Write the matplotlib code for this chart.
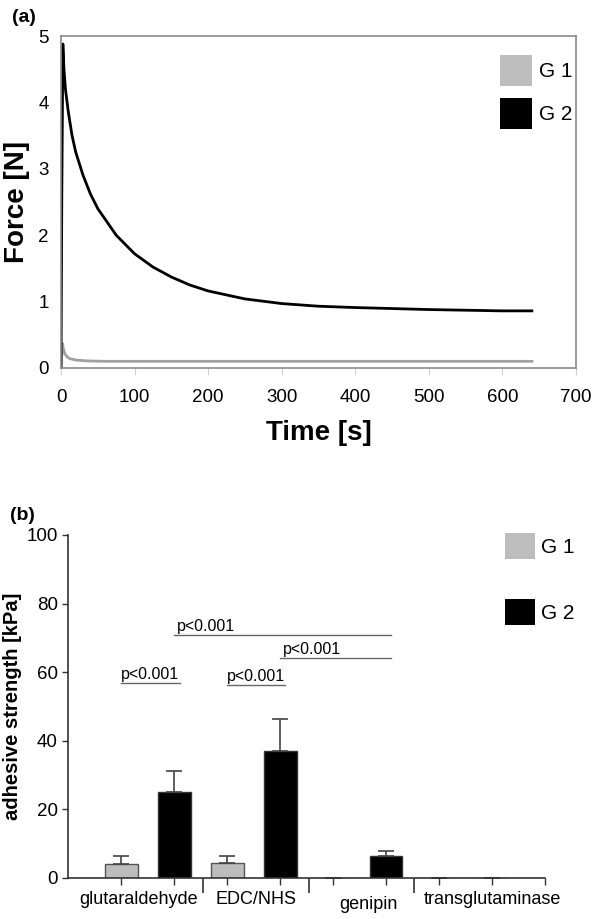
import matplotlib
matplotlib.use('Agg')
import matplotlib.pyplot as plt
from matplotlib.patches import Patch

plt.rcParams['font.family'] = ['Liberation Sans', 'DejaVu Sans']

# (a) force relaxation curves
time_g2 = [0, 1, 2.5, 4, 6, 10, 15, 20, 30, 40, 50, 75, 100, 125, 150, 175, 200,
           250, 300, 350, 400, 450, 500, 550, 600, 640]
force_g2 = [0, 2.5, 4.88, 4.5, 4.2, 3.85, 3.5, 3.25, 2.9, 2.62, 2.4, 2.0, 1.72,
            1.52, 1.37, 1.25, 1.16, 1.04, 0.97, 0.93, 0.91, 0.895, 0.88, 0.87, 0.86, 0.86]
time_g1 = [0, 1, 2, 3, 5, 8, 12, 20, 30, 40, 60, 100, 200, 300, 400, 500, 600, 640]
force_g1 = [0, 0.2, 0.37, 0.3, 0.22, 0.17, 0.14, 0.12, 0.11, 0.105, 0.1, 0.1, 0.1,
            0.1, 0.1, 0.1, 0.1, 0.1]

# (b) adhesive strength
categories = ['glutaraldehyde', 'EDC/NHS', 'genipin', 'transglutaminase']
strength_g1 = [3.9, 4.3, 0, 0]
err_g1 = [2.5, 2.1, 0, 0]
strength_g2 = [24.9, 37.0, 6.4, 0]
err_g2 = [6.2, 9.2, 1.5, 0]
# significance lines: (from bar, to bar, height, text alignment)
sig_pairs = [(1, 2, 56.8, 'center'), (3, 4, 56.1, 'center'),
             (2, 6, 70.7, 'left'), (4, 6, 64.0, 'left')]
sig_label = 'p<0.001'

GRAY = '#bdbdbd'
FRAME = '#8a8a8a'

fig = plt.figure(figsize=(6.0, 9.19), dpi=100)

# ---------------- panel (a)
ax1 = fig.add_axes([0.1017, 0.5996, 0.8583, 0.3612])
ax1.plot(time_g1, force_g1, color='#a0a0a0', lw=2.0)
ax1.plot(time_g2, force_g2, color='black', lw=2.0)
ax1.set_xlim(0, 700)
ax1.set_ylim(0, 5)
ax1.set_xticks(range(0, 701, 100))
ax1.set_yticks(range(0, 6))
for sp in ax1.spines.values():
    sp.set_color(FRAME)
    sp.set_linewidth(1.2)
ax1.tick_params(axis='x', direction='out', length=5, color='#d0d0d0',
                labelsize=13.5, pad=10)
ax1.tick_params(axis='y', length=0, labelsize=13.5, pad=9)
ax1.set_xlabel('Time [s]', fontsize=20, fontweight='bold', labelpad=10)
ax1.set_ylabel('Force [N]', fontsize=20, fontweight='bold', labelpad=6)
ax1.legend(handles=[Patch(facecolor=GRAY, edgecolor='none', label='G 1'),
                    Patch(facecolor='black', edgecolor='none', label='G 2')],
           loc='upper left', bbox_to_anchor=(0.8333, 0.9402),
           bbox_transform=fig.transFigure, frameon=False, fontsize=15,
           handlelength=1.55, handleheight=1.9, labelspacing=0.6,
           handletextpad=0.3, borderpad=0, borderaxespad=0)
fig.text(0.02, 0.981, '(a)', fontsize=14, fontweight='bold', va='center')

# ---------------- panel (b)
ax2 = fig.add_axes([0.1138, 0.0449, 0.7945, 0.373])
pos_g1 = [1, 3, 5, 7]
pos_g2 = [2, 4, 6, 8]
width = 0.62
ax2.bar(pos_g1, strength_g1, width, color=GRAY, edgecolor='#555555', lw=1.0,
        yerr=[[0] * 4, err_g1], error_kw=dict(ecolor='#444444', elinewidth=1.2,
                                                capsize=6, capthick=1.2))
ax2.bar(pos_g2, strength_g2, width, color='black', edgecolor='#333333', lw=1.0,
        yerr=[[0] * 4, err_g2], error_kw=dict(ecolor='#444444', elinewidth=1.2,
                                                capsize=6, capthick=1.2))
ax2.set_xlim(0, 9)
ax2.set_ylim(0, 100)
ax2.set_yticks(range(0, 101, 20))
for side in ['top', 'right']:
    ax2.spines[side].set_visible(False)
for side in ['left', 'bottom']:
    ax2.spines[side].set_color('#333333')
    ax2.spines[side].set_linewidth(1.2)
ax2.set_xticks(pos_g1 + pos_g2 + [9])
ax2.set_xticklabels([])
ax2.tick_params(axis='x', length=5, width=1.0, color='#333333')
ax2.set_xticks([2.54, 4.54, 6.52], minor=True)
ax2.tick_params(axis='x', which='minor', length=11, width=1.2, color='#333333')
ax2.tick_params(axis='y', length=4, width=1.0, color='#333333', labelsize=13.5)
label_pos = [1.32, 3.55, 5.66, 8.0]
label_dy = [0, 0, 3, 0]
for x, name, dy in zip(label_pos, categories, label_dy):
    ax2.annotate(name, xy=(x, 0), xycoords=('data', 'axes fraction'),
                 xytext=(0, -16 - dy), textcoords='offset points',
                 ha='center', va='center', fontsize=13)
ax2.set_ylabel('adhesive strength [kPa]', fontsize=14.5, fontweight='bold',
               labelpad=3)
for a, b, h, align in sig_pairs:
    ax2.plot([a, b + 0.1], [h, h], color='#666666', lw=1.0)
    tx = (a + b + 0.1) / 2 if align == 'center' else a + 0.05
    ax2.text(tx, h + 0.4, sig_label, ha=align, va='bottom', fontsize=11.5)
ax2.legend(handles=[Patch(facecolor=GRAY, edgecolor='none', label='G 1'),
                    Patch(facecolor='black', edgecolor='none', label='G 2')],
           loc='upper left', bbox_to_anchor=(0.8417, 0.42),
           bbox_transform=fig.transFigure, frameon=False, fontsize=15,
           handlelength=1.45, handleheight=1.55, labelspacing=1.9,
           handletextpad=0.3, borderpad=0, borderaxespad=0)
fig.text(0.017, 0.4396, '(b)', fontsize=14, fontweight='bold', va='center')

fig.savefig('out.png', dpi=100)
